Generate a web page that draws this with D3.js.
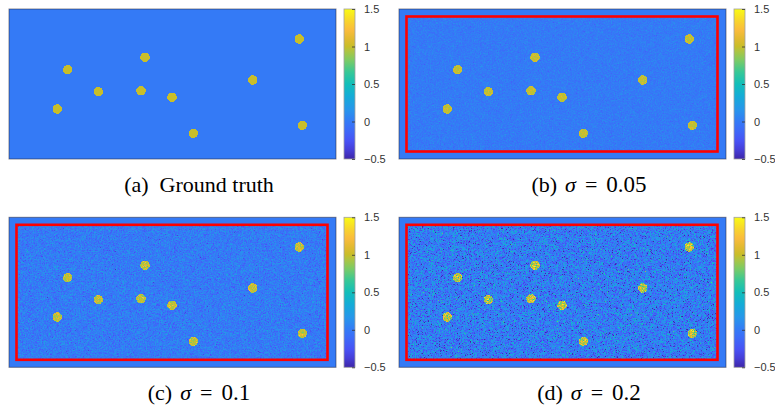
<!DOCTYPE html>
<html>
<head>
<meta charset="utf-8">
<script src="https://cdn.jsdelivr.net/npm/d3@7"></script>
<style>
  body { margin: 0; background: #fff; }
  svg { display: block; }
</style>
</head>
<body>
<svg id="chart" width="775" height="407"></svg>
<script>
// ---- data (image units: the field is 327 x 150 cells) ----
var IMG_W = 327, IMG_H = 150;
var dotX = [58.7, 136, 290.3, 89.3, 132, 163, 243.7, 48.3, 184.3, 293.3];
var dotY = [60.7, 48.3, 30, 82.7, 81.7, 88.3, 71, 100, 124.3, 116.3];
var dotRadius = 4.7;
var dotValue = 1, backgroundValue = 0;
var panelLetters = ["a", "b", "c", "d"];
var panelSigma = [0, 0.05, 0.1, 0.2];
var panelTitle = ["Ground truth", "0.05", "0.1", "0.2"];
var boxX = [7.5, 318.5], boxY = [7.5, 142.5];   // region where noise was added
var cbDomain = [-0.5, 1.5];
var cbTicks = [-0.5, 0, 0.5, 1, 1.5];

// parula-like colour map
var parulaT = [0, 0.06, 0.12, 0.2, 0.25, 0.33, 0.42, 0.5, 0.58, 0.66, 0.72, 0.75, 0.8, 0.86, 0.92, 1];
var parulaC = ["rgb(62,38,168)", "rgb(70,62,215)", "rgb(72,82,245)", "rgb(60,108,248)", "rgb(52,122,246)",
  "rgb(39,150,235)", "rgb(20,172,215)", "rgb(18,190,185)", "rgb(55,200,150)", "rgb(125,203,100)",
  "rgb(175,196,65)", "rgb(200,190,42)", "rgb(225,186,48)", "rgb(250,188,60)", "rgb(248,212,45)", "rgb(249,251,20)"];

var panelW = 327, panelH = 150;
var origins = [[9, 9], [399, 9], [9, 217.3], [399, 217.3]];

var svg = d3.select("#chart");

var color = d3.scaleLinear()
  .domain(parulaT.map(function (t) { return cbDomain[0] + t * (cbDomain[1] - cbDomain[0]); }))
  .range(parulaC)
  .clamp(true);

var x = d3.scaleLinear().domain([0, IMG_W]).range([0, panelW]);
var y = d3.scaleLinear().domain([0, IMG_H]).range([0, panelH]);
var cbY = d3.scaleLinear().domain(cbDomain).range([panelH, 0]);

// gradient for the colour bars
var grad = svg.append("defs").append("linearGradient")
  .attr("id", "parula").attr("x1", 0).attr("y1", 1).attr("x2", 0).attr("y2", 0);
grad.selectAll("stop").data(parulaT).enter().append("stop")
  .attr("offset", function (d) { return d; })
  .attr("stop-color", function (d, i) { return parulaC[i]; });

function renderField(sigma, seed) {
  var canvas = document.createElement("canvas");
  canvas.width = IMG_W; canvas.height = IMG_H;
  var ctx = canvas.getContext("2d");
  var img = ctx.createImageData(IMG_W, IMG_H);
  var noise = d3.randomNormal.source(d3.randomLcg(seed))(0, sigma);
  for (var j = 0; j < IMG_H; j++) {
    for (var i = 0; i < IMG_W; i++) {
      var cx = i + 0.5, cy = j + 0.5, v = backgroundValue;
      for (var k = 0; k < dotX.length; k++) {
        var dx = cx - dotX[k], dy = cy - dotY[k];
        if (dx * dx + dy * dy <= dotRadius * dotRadius) v = dotValue;
      }
      if (sigma > 0 && cx >= boxX[0] && cx <= boxX[1] && cy >= boxY[0] && cy <= boxY[1]) v += noise();
      var c = d3.rgb(color(v)), p = (j * IMG_W + i) * 4;
      img.data[p] = c.r; img.data[p + 1] = c.g; img.data[p + 2] = c.b; img.data[p + 3] = 255;
    }
  }
  ctx.putImageData(img, 0, 0);
  return canvas.toDataURL();
}

panelLetters.forEach(function (letter, n) {
  var g = svg.append("g").attr("transform", "translate(" + origins[n][0] + "," + origins[n][1] + ")");

  g.append("image")
    .attr("href", renderField(panelSigma[n], 11 + n * 7))
    .attr("x", x(0)).attr("y", y(0))
    .attr("width", x(IMG_W) - x(0)).attr("height", y(IMG_H) - y(0))
    .attr("preserveAspectRatio", "none")
    .style("image-rendering", "pixelated");

  g.append("rect")
    .attr("x", x(0)).attr("y", y(0))
    .attr("width", x(IMG_W)).attr("height", y(IMG_H))
    .attr("fill", "none").attr("stroke", "rgba(40,40,60,0.55)").attr("stroke-width", 1);

  if (panelSigma[n] > 0) {
    g.append("rect")
      .attr("x", x(boxX[0])).attr("y", y(boxY[0]))
      .attr("width", x(boxX[1]) - x(boxX[0])).attr("height", y(boxY[1]) - y(boxY[0]))
      .attr("fill", "none").attr("stroke", "#ff0000").attr("stroke-width", 2.6);
  }

  // colour bar
  var cb = g.append("g").attr("transform", "translate(" + (panelW + 8) + ",0)");
  cb.append("rect").attr("width", 11).attr("height", panelH)
    .attr("fill", "url(#parula)").attr("stroke", "#a0a0a0").attr("stroke-width", 0.8);
  var ax = cb.append("g").attr("transform", "translate(11,0)")
    .call(d3.axisRight(cbY).tickValues(cbTicks).tickSize(0).tickPadding(9).tickFormat(d3.format("")));
  ax.select(".domain").remove();
  ax.selectAll("text").attr("font-family", "Liberation Sans, Arial, sans-serif").attr("font-size", 11).attr("fill", "#333");
  ax.selectAll(".tick").append("line").attr("x1", -3).attr("x2", 0).attr("stroke", "#333").attr("stroke-width", 0.8);

  // caption
  var t = g.append("text")
    .attr("x", 190).attr("y", 183)
    .attr("text-anchor", "middle")
    .attr("font-family", "Liberation Serif, Times New Roman, serif")
    .attr("font-size", 22)
    .attr("fill", "#000")
    .attr("xml:space", "preserve");
  if (panelSigma[n] === 0) {
    t.text("(" + letter + ")  " + panelTitle[n]);
  } else {
    t.append("tspan").text("(" + letter + ")");
    t.append("tspan").attr("dx", 8).attr("font-style", "italic").text("σ");
    t.append("tspan").attr("dx", 9).text("=");
    t.append("tspan").attr("dx", 9).attr("font-size", 23).text(panelTitle[n]);
  }
});
</script>
</body>
</html>
